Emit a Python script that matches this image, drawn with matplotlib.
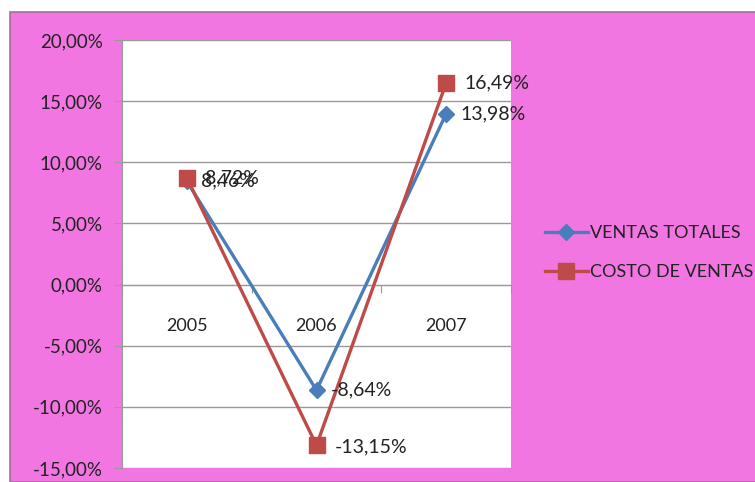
import matplotlib.pyplot as plt
from matplotlib.patches import Rectangle
from matplotlib.ticker import FuncFormatter

# Variación anual de ventas y costos
years = ['2005', '2006', '2007']
ventas_totales = [8.46, -8.64, 13.98]
costo_ventas = [8.72, -13.15, 16.49]

blue = '#4A7EBB'
red = '#BE4B48'
pink = '#F276E2'
text_color = '#222222'

plt.rcParams['font.family'] = ['Lato', 'DejaVu Sans']


def pct(v):
    return f"{v:.2f}".replace('.', ',') + '%'


fig = plt.figure(figsize=(7.55, 4.82), dpi=100)
fig.patch.set_facecolor('white')

# fondo rosado del área del gráfico
bg = Rectangle((10 / 755, 0), 1, 1 - 12 / 482, transform=fig.transFigure,
               facecolor=pink, edgecolor='#A0709A', linewidth=1.2, zorder=-10)
fig.add_artist(bg)

ax = fig.add_axes([122 / 755, 1 - 468 / 482, 389 / 755, 428 / 482])
ax.set_zorder(1)
ax.set_facecolor('white')

x = list(range(len(years)))
ax.plot(x, ventas_totales, color=blue, linewidth=2.4, marker='D', markersize=8,
        label='VENTAS TOTALES', zorder=3)
ax.plot(x, costo_ventas, color=red, linewidth=2.4, marker='s', markersize=12,
        label='COSTO DE VENTAS', zorder=4)

for xi, v in zip(x, ventas_totales):
    ax.annotate(pct(v), (xi, v), xytext=(10, 0), textcoords='offset points',
                va='center', ha='left', fontsize=14, color=text_color, zorder=5)
for xi, v in zip(x, costo_ventas):
    ax.annotate(pct(v), (xi, v), xytext=(13, -1 if v < 0 else 0), textcoords='offset points',
                va='center', ha='left', fontsize=14, color=text_color, zorder=5)

ax.set_xlim(-0.5, len(years) - 0.5)
ax.set_ylim(-15, 20)
ax.set_yticks(range(-15, 21, 5))
ax.yaxis.set_major_formatter(FuncFormatter(lambda v, _: pct(v)))
ax.grid(axis='y', color='#999999', linewidth=1.0)
ax.set_axisbelow(True)

# eje de categorías sobre el 0
ax.spines['bottom'].set_position(('data', 0))
ax.spines['bottom'].set_color('#999999')
ax.spines['left'].set_color('#999999')
ax.spines['top'].set_visible(False)
ax.spines['right'].set_visible(False)
ax.set_xticks([i - 0.5 for i in range(len(years) + 1)])
ax.set_xticklabels([])
ax.set_xticks(x, minor=True)
ax.set_xticklabels(years, minor=True)
ax.tick_params(axis='x', which='major', length=6, color='#999999', direction='out')
ax.tick_params(axis='x', which='minor', length=0, pad=24, labelsize=13, labelcolor=text_color)
ax.tick_params(axis='y', length=6, color='#999999', pad=8, labelsize=13.5, labelcolor=text_color)

leg = ax.legend(loc='center left', bbox_to_anchor=(1.045, 0.503), frameon=False,
                fontsize=13, handlelength=2.4, handletextpad=0.1, labelspacing=1.3)
for t in leg.get_texts():
    t.set_color(text_color)

fig.savefig('out.png', dpi=100, facecolor=fig.get_facecolor())
